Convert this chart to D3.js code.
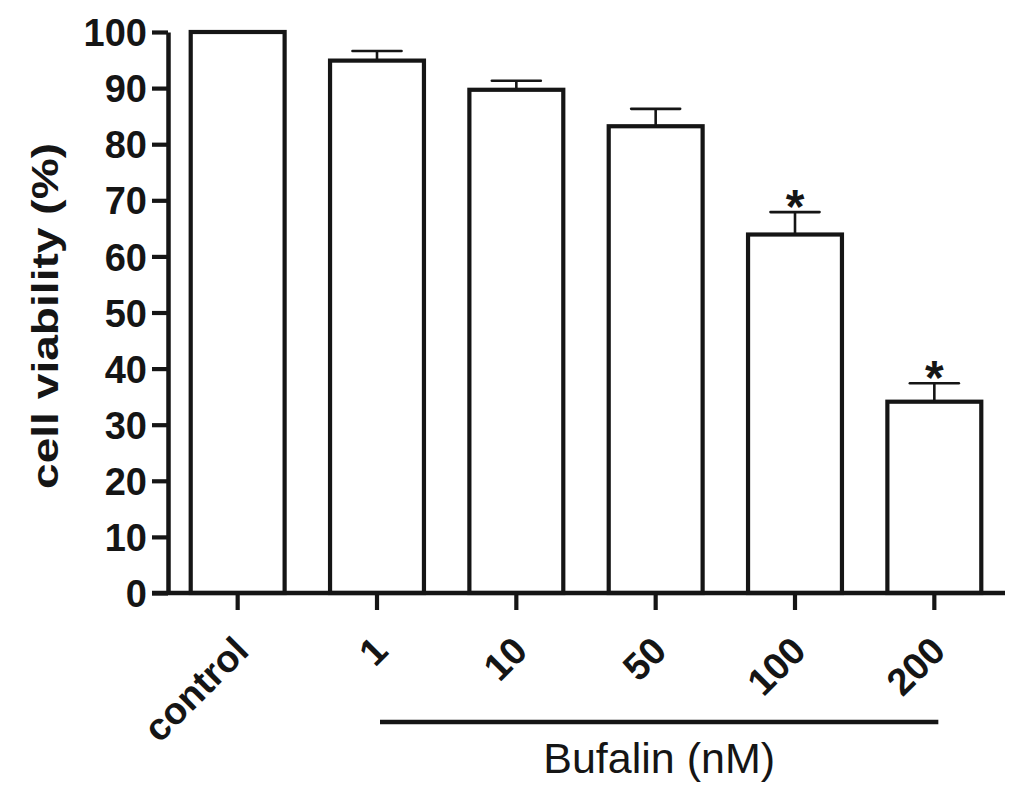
<!DOCTYPE html>
<html>
<head>
<meta charset="utf-8">
<script src="https://cdn.jsdelivr.net/npm/d3@7"></script>
<style>
  html, body { margin: 0; padding: 0; background: #fff; }
  svg { display: block; }
</style>
</head>
<body>
<svg id="chart" width="1024" height="799"></svg>
<script>
const categories = ["control", "1", "10", "50", "100", "200"];
const means = [100, 94.9, 89.7, 83.2, 63.9, 34.1];
const errors = [0, 1.7, 1.6, 3.1, 4.0, 3.3];
const significant = [false, false, false, false, true, true];
const yTicks = [0, 10, 20, 30, 40, 50, 60, 70, 80, 90, 100];
const yTitle = "cell viability (%)";
const groupLabel = "Bufalin (nM)";
const groupStart = "1", groupEnd = "200";

const ink = "#151515";
const svg = d3.select("#chart");

const y = d3.scaleLinear().domain([0, 100]).range([593, 32]);
const x = d3.scaleBand().domain(categories).range([168, 1004])
  .paddingInner(0.326).paddingOuter(0.163);

const data = categories.map((c, i) => ({c, v: means[i], e: errors[i], s: significant[i]}));

// bars
svg.append("g").selectAll("rect").data(data).join("rect")
  .attr("x", d => x(d.c))
  .attr("y", d => y(d.v))
  .attr("width", x.bandwidth())
  .attr("height", d => y(0) - y(d.v))
  .attr("fill", "#fff")
  .attr("stroke", ink)
  .attr("stroke-width", 4.2);

// error bars
const eb = svg.append("g").selectAll("g").data(data.filter(d => d.e > 0)).join("g");
eb.append("line")
  .attr("x1", d => x(d.c) + x.bandwidth() / 2)
  .attr("x2", d => x(d.c) + x.bandwidth() / 2)
  .attr("y1", d => y(d.v))
  .attr("y2", d => y(d.v + d.e))
  .attr("stroke", ink).attr("stroke-width", 2.6);
eb.append("line")
  .attr("x1", d => x(d.c) + x.bandwidth() / 2 - 24.5)
  .attr("x2", d => x(d.c) + x.bandwidth() / 2 + 24.5)
  .attr("y1", d => y(d.v + d.e))
  .attr("y2", d => y(d.v + d.e))
  .attr("stroke", ink).attr("stroke-width", 2.6).attr("stroke-linecap", "round");

// significance stars
svg.append("g").selectAll("text").data(data.filter(d => d.s)).join("text")
  .attr("x", d => x(d.c) + x.bandwidth() / 2)
  .attr("y", d => y(d.v + d.e) + 11)
  .attr("text-anchor", "middle")
  .attr("font-family", "Liberation Sans, Arial, sans-serif")
  .attr("font-weight", "bold")
  .attr("font-size", 48)
  .attr("fill", ink)
  .text("*");

// y axis
const yAxis = svg.append("g").attr("transform", "translate(168,0)")
  .call(d3.axisLeft(y).tickValues(yTicks).tickSize(16).tickSizeOuter(0).tickPadding(5));
yAxis.select(".domain").attr("stroke", ink).attr("stroke-width", 4.5);
yAxis.selectAll(".tick line").attr("stroke", ink).attr("stroke-width", 4.2);
yAxis.selectAll(".tick text")
  .attr("font-family", "Liberation Sans, Arial, sans-serif")
  .attr("font-weight", "bold")
  .attr("font-size", 38)
  .attr("fill", ink)
  .attr("dy", "0.36em");

// x axis
const xAxis = svg.append("g").attr("transform", `translate(0,${y(0)})`)
  .call(d3.axisBottom(x).tickSize(17).tickSizeOuter(0).tickPadding(0));
xAxis.select(".domain").remove();
xAxis.append("line").attr("x1", 152).attr("x2", 1005).attr("y1", 0).attr("y2", 0)
  .attr("stroke", ink).attr("stroke-width", 4.5);
xAxis.selectAll(".tick line").attr("stroke", ink).attr("stroke-width", 4.2);
xAxis.selectAll(".tick text")
  .attr("font-family", "Liberation Sans, Arial, sans-serif")
  .attr("font-weight", "bold")
  .attr("font-size", 38)
  .attr("fill", ink)
  .attr("text-anchor", "end")
  .attr("y", 0).attr("dy", 0)
  .attr("transform", "translate(13,60) rotate(-45)");

// y title
svg.append("text")
  .attr("transform", "translate(58,316) rotate(-90)")
  .attr("text-anchor", "middle")
  .attr("font-family", "Liberation Sans, Arial, sans-serif")
  .attr("font-weight", "bold")
  .attr("font-size", 37)
  .attr("fill", ink)
  .attr("textLength", 346)
  .attr("lengthAdjust", "spacingAndGlyphs")
  .text(yTitle);

// group bracket
const gx1 = x(groupStart) + x.bandwidth() / 2 + 3;
const gx2 = x(groupEnd) + x.bandwidth() / 2 + 4;
svg.append("line").attr("x1", gx1).attr("x2", gx2).attr("y1", 722).attr("y2", 722)
  .attr("stroke", ink).attr("stroke-width", 4.5);
svg.append("text")
  .attr("x", (gx1 + gx2) / 2)
  .attr("y", 773)
  .attr("text-anchor", "middle")
  .attr("font-family", "Liberation Sans, Arial, sans-serif")
  .attr("font-size", 43)
  .attr("fill", ink)
  .text(groupLabel);
</script>
</body>
</html>
